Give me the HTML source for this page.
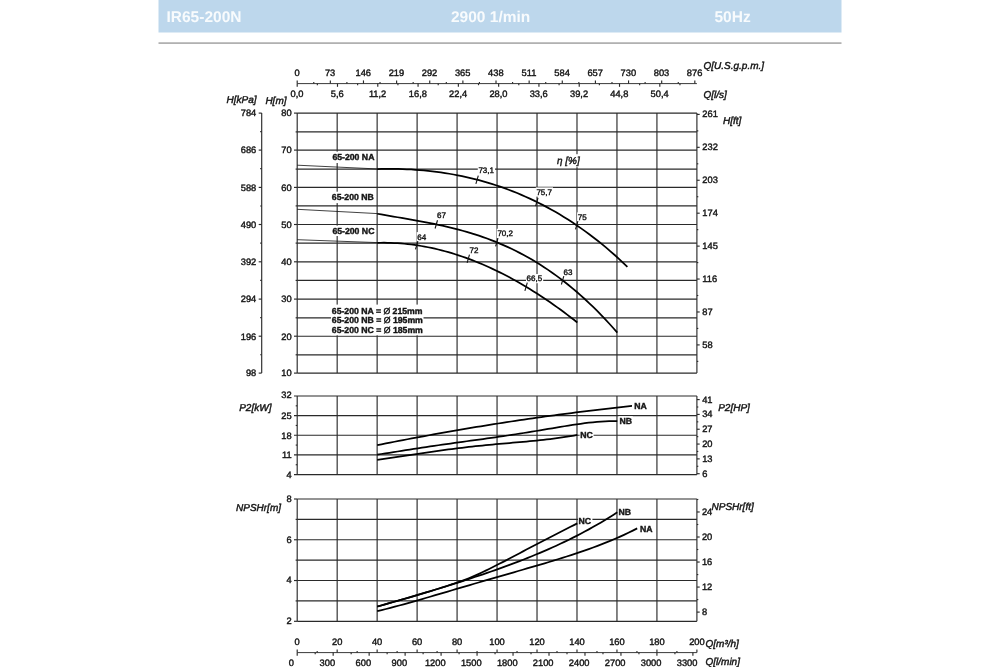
<!DOCTYPE html>
<html lang="en">
<head>
<meta charset="utf-8">
<title>IR65-200N 2900 1/min 50Hz</title>
<style>
html,body{margin:0;padding:0;background:#fff;}
body{width:1000px;height:667px;overflow:hidden;}
svg{display:block;font-family:"Liberation Sans",sans-serif;filter:blur(0.4px);}
</style>
</head>
<body>
<svg width="1000" height="667" viewBox="0 0 1000 667" text-rendering="geometricPrecision">
<rect x="0" y="0" width="1000" height="667" fill="#ffffff"/>
<rect x="158.5" y="0" width="683" height="32.5" fill="#bdd7ec"/>
<rect x="158.5" y="42.3" width="683" height="1.6" fill="#a9a9a9"/>
<text x="166.50" y="22.30" font-size="15.5" font-weight="bold" fill="#f8fbfd" stroke="#f8fbfd" stroke-width="0">IR65-200N</text>
<text x="451.00" y="22.30" font-size="15.5" font-weight="bold" fill="#f8fbfd" stroke="#f8fbfd" stroke-width="0">2900 1/min</text>
<text x="714.50" y="22.30" font-size="15.5" font-weight="bold" fill="#f8fbfd" stroke="#f8fbfd" stroke-width="0">50Hz</text>
<line x1="297.20" y1="83.60" x2="696.90" y2="83.60" stroke="#3a3a3a" stroke-width="1.0"/>
<line x1="297.20" y1="80.40" x2="297.20" y2="83.60" stroke="#2a2a2a" stroke-width="1.15"/>
<text x="297.00" y="76.43" font-size="9.3" text-anchor="middle" fill="#141414" stroke="#141414" stroke-width="0.4">0</text>
<line x1="313.77" y1="82.00" x2="313.77" y2="83.60" stroke="#2a2a2a" stroke-width="1.15"/>
<line x1="330.34" y1="80.40" x2="330.34" y2="83.60" stroke="#2a2a2a" stroke-width="1.15"/>
<text x="330.14" y="76.43" font-size="9.3" text-anchor="middle" fill="#141414" stroke="#141414" stroke-width="0.4">73</text>
<line x1="346.90" y1="82.00" x2="346.90" y2="83.60" stroke="#2a2a2a" stroke-width="1.15"/>
<line x1="363.47" y1="80.40" x2="363.47" y2="83.60" stroke="#2a2a2a" stroke-width="1.15"/>
<text x="363.27" y="76.43" font-size="9.3" text-anchor="middle" fill="#141414" stroke="#141414" stroke-width="0.4">146</text>
<line x1="380.04" y1="82.00" x2="380.04" y2="83.60" stroke="#2a2a2a" stroke-width="1.15"/>
<line x1="396.61" y1="80.40" x2="396.61" y2="83.60" stroke="#2a2a2a" stroke-width="1.15"/>
<text x="396.41" y="76.43" font-size="9.3" text-anchor="middle" fill="#141414" stroke="#141414" stroke-width="0.4">219</text>
<line x1="413.17" y1="82.00" x2="413.17" y2="83.60" stroke="#2a2a2a" stroke-width="1.15"/>
<line x1="429.74" y1="80.40" x2="429.74" y2="83.60" stroke="#2a2a2a" stroke-width="1.15"/>
<text x="429.54" y="76.43" font-size="9.3" text-anchor="middle" fill="#141414" stroke="#141414" stroke-width="0.4">292</text>
<line x1="446.31" y1="82.00" x2="446.31" y2="83.60" stroke="#2a2a2a" stroke-width="1.15"/>
<line x1="462.88" y1="80.40" x2="462.88" y2="83.60" stroke="#2a2a2a" stroke-width="1.15"/>
<text x="462.68" y="76.43" font-size="9.3" text-anchor="middle" fill="#141414" stroke="#141414" stroke-width="0.4">365</text>
<line x1="479.44" y1="82.00" x2="479.44" y2="83.60" stroke="#2a2a2a" stroke-width="1.15"/>
<line x1="496.01" y1="80.40" x2="496.01" y2="83.60" stroke="#2a2a2a" stroke-width="1.15"/>
<text x="495.81" y="76.43" font-size="9.3" text-anchor="middle" fill="#141414" stroke="#141414" stroke-width="0.4">438</text>
<line x1="512.58" y1="82.00" x2="512.58" y2="83.60" stroke="#2a2a2a" stroke-width="1.15"/>
<line x1="529.15" y1="80.40" x2="529.15" y2="83.60" stroke="#2a2a2a" stroke-width="1.15"/>
<text x="528.95" y="76.43" font-size="9.3" text-anchor="middle" fill="#141414" stroke="#141414" stroke-width="0.4">511</text>
<line x1="545.72" y1="82.00" x2="545.72" y2="83.60" stroke="#2a2a2a" stroke-width="1.15"/>
<line x1="562.28" y1="80.40" x2="562.28" y2="83.60" stroke="#2a2a2a" stroke-width="1.15"/>
<text x="562.08" y="76.43" font-size="9.3" text-anchor="middle" fill="#141414" stroke="#141414" stroke-width="0.4">584</text>
<line x1="578.85" y1="82.00" x2="578.85" y2="83.60" stroke="#2a2a2a" stroke-width="1.15"/>
<line x1="595.42" y1="80.40" x2="595.42" y2="83.60" stroke="#2a2a2a" stroke-width="1.15"/>
<text x="595.22" y="76.43" font-size="9.3" text-anchor="middle" fill="#141414" stroke="#141414" stroke-width="0.4">657</text>
<line x1="611.99" y1="82.00" x2="611.99" y2="83.60" stroke="#2a2a2a" stroke-width="1.15"/>
<line x1="628.55" y1="80.40" x2="628.55" y2="83.60" stroke="#2a2a2a" stroke-width="1.15"/>
<text x="628.35" y="76.43" font-size="9.3" text-anchor="middle" fill="#141414" stroke="#141414" stroke-width="0.4">730</text>
<line x1="645.12" y1="82.00" x2="645.12" y2="83.60" stroke="#2a2a2a" stroke-width="1.15"/>
<line x1="661.69" y1="80.40" x2="661.69" y2="83.60" stroke="#2a2a2a" stroke-width="1.15"/>
<text x="661.49" y="76.43" font-size="9.3" text-anchor="middle" fill="#141414" stroke="#141414" stroke-width="0.4">803</text>
<line x1="678.26" y1="82.00" x2="678.26" y2="83.60" stroke="#2a2a2a" stroke-width="1.15"/>
<line x1="694.82" y1="80.40" x2="694.82" y2="83.60" stroke="#2a2a2a" stroke-width="1.15"/>
<text x="694.62" y="76.43" font-size="9.3" text-anchor="middle" fill="#141414" stroke="#141414" stroke-width="0.4">876</text>
<line x1="297.20" y1="83.60" x2="297.20" y2="86.80" stroke="#2a2a2a" stroke-width="1.15"/>
<text x="297.00" y="97.43" font-size="9.3" text-anchor="middle" fill="#141414" stroke="#141414" stroke-width="0.4">0,0</text>
<line x1="317.34" y1="83.60" x2="317.34" y2="85.20" stroke="#2a2a2a" stroke-width="1.15"/>
<line x1="337.49" y1="83.60" x2="337.49" y2="86.80" stroke="#2a2a2a" stroke-width="1.15"/>
<text x="337.29" y="97.43" font-size="9.3" text-anchor="middle" fill="#141414" stroke="#141414" stroke-width="0.4">5,6</text>
<line x1="357.63" y1="83.60" x2="357.63" y2="85.20" stroke="#2a2a2a" stroke-width="1.15"/>
<line x1="377.78" y1="83.60" x2="377.78" y2="86.80" stroke="#2a2a2a" stroke-width="1.15"/>
<text x="377.58" y="97.43" font-size="9.3" text-anchor="middle" fill="#141414" stroke="#141414" stroke-width="0.4">11,2</text>
<line x1="397.92" y1="83.60" x2="397.92" y2="85.20" stroke="#2a2a2a" stroke-width="1.15"/>
<line x1="418.07" y1="83.60" x2="418.07" y2="86.80" stroke="#2a2a2a" stroke-width="1.15"/>
<text x="417.87" y="97.43" font-size="9.3" text-anchor="middle" fill="#141414" stroke="#141414" stroke-width="0.4">16,8</text>
<line x1="438.21" y1="83.60" x2="438.21" y2="85.20" stroke="#2a2a2a" stroke-width="1.15"/>
<line x1="458.36" y1="83.60" x2="458.36" y2="86.80" stroke="#2a2a2a" stroke-width="1.15"/>
<text x="458.16" y="97.43" font-size="9.3" text-anchor="middle" fill="#141414" stroke="#141414" stroke-width="0.4">22,4</text>
<line x1="478.50" y1="83.60" x2="478.50" y2="85.20" stroke="#2a2a2a" stroke-width="1.15"/>
<line x1="498.65" y1="83.60" x2="498.65" y2="86.80" stroke="#2a2a2a" stroke-width="1.15"/>
<text x="498.45" y="97.43" font-size="9.3" text-anchor="middle" fill="#141414" stroke="#141414" stroke-width="0.4">28,0</text>
<line x1="518.79" y1="83.60" x2="518.79" y2="85.20" stroke="#2a2a2a" stroke-width="1.15"/>
<line x1="538.94" y1="83.60" x2="538.94" y2="86.80" stroke="#2a2a2a" stroke-width="1.15"/>
<text x="538.74" y="97.43" font-size="9.3" text-anchor="middle" fill="#141414" stroke="#141414" stroke-width="0.4">33,6</text>
<line x1="559.08" y1="83.60" x2="559.08" y2="85.20" stroke="#2a2a2a" stroke-width="1.15"/>
<line x1="579.23" y1="83.60" x2="579.23" y2="86.80" stroke="#2a2a2a" stroke-width="1.15"/>
<text x="579.03" y="97.43" font-size="9.3" text-anchor="middle" fill="#141414" stroke="#141414" stroke-width="0.4">39,2</text>
<line x1="599.37" y1="83.60" x2="599.37" y2="85.20" stroke="#2a2a2a" stroke-width="1.15"/>
<line x1="619.52" y1="83.60" x2="619.52" y2="86.80" stroke="#2a2a2a" stroke-width="1.15"/>
<text x="619.32" y="97.43" font-size="9.3" text-anchor="middle" fill="#141414" stroke="#141414" stroke-width="0.4">44,8</text>
<line x1="639.66" y1="83.60" x2="639.66" y2="85.20" stroke="#2a2a2a" stroke-width="1.15"/>
<line x1="659.81" y1="83.60" x2="659.81" y2="86.80" stroke="#2a2a2a" stroke-width="1.15"/>
<text x="659.61" y="97.43" font-size="9.3" text-anchor="middle" fill="#141414" stroke="#141414" stroke-width="0.4">50,4</text>
<line x1="679.95" y1="83.60" x2="679.95" y2="85.20" stroke="#2a2a2a" stroke-width="1.15"/>
<text x="703.50" y="69.18" font-size="10.0" font-style="italic" fill="#141414" stroke="#141414" stroke-width="0.42">Q[U.S.g.p.m.]</text>
<text x="703.50" y="97.58" font-size="10.0" font-style="italic" fill="#141414" stroke="#141414" stroke-width="0.42">Q[l/s]</text>
<line x1="297.20" y1="113.10" x2="297.20" y2="373.10" stroke="#2a2a2a" stroke-width="1.15"/>
<line x1="337.17" y1="113.10" x2="337.17" y2="373.10" stroke="#2a2a2a" stroke-width="1.15"/>
<line x1="377.14" y1="113.10" x2="377.14" y2="373.10" stroke="#2a2a2a" stroke-width="1.15"/>
<line x1="417.11" y1="113.10" x2="417.11" y2="373.10" stroke="#2a2a2a" stroke-width="1.15"/>
<line x1="457.08" y1="113.10" x2="457.08" y2="373.10" stroke="#2a2a2a" stroke-width="1.15"/>
<line x1="497.05" y1="113.10" x2="497.05" y2="373.10" stroke="#2a2a2a" stroke-width="1.15"/>
<line x1="537.02" y1="113.10" x2="537.02" y2="373.10" stroke="#2a2a2a" stroke-width="1.15"/>
<line x1="576.99" y1="113.10" x2="576.99" y2="373.10" stroke="#2a2a2a" stroke-width="1.15"/>
<line x1="616.96" y1="113.10" x2="616.96" y2="373.10" stroke="#2a2a2a" stroke-width="1.15"/>
<line x1="656.93" y1="113.10" x2="656.93" y2="373.10" stroke="#2a2a2a" stroke-width="1.15"/>
<line x1="696.90" y1="113.10" x2="696.90" y2="373.10" stroke="#2a2a2a" stroke-width="1.15"/>
<line x1="297.20" y1="373.10" x2="696.90" y2="373.10" stroke="#2a2a2a" stroke-width="1.15"/>
<line x1="294.00" y1="373.10" x2="297.20" y2="373.10" stroke="#2a2a2a" stroke-width="1.15"/>
<text x="291.60" y="376.43" font-size="9.3" text-anchor="end" fill="#141414" stroke="#141414" stroke-width="0.4">10</text>
<line x1="297.20" y1="354.80" x2="696.90" y2="354.80" stroke="#2a2a2a" stroke-width="1.15"/>
<line x1="295.60" y1="354.80" x2="297.20" y2="354.80" stroke="#2a2a2a" stroke-width="1.15"/>
<line x1="297.20" y1="336.20" x2="696.90" y2="336.20" stroke="#2a2a2a" stroke-width="1.15"/>
<line x1="294.00" y1="336.20" x2="297.20" y2="336.20" stroke="#2a2a2a" stroke-width="1.15"/>
<text x="291.60" y="339.53" font-size="9.3" text-anchor="end" fill="#141414" stroke="#141414" stroke-width="0.4">20</text>
<line x1="297.20" y1="317.80" x2="696.90" y2="317.80" stroke="#2a2a2a" stroke-width="1.15"/>
<line x1="295.60" y1="317.80" x2="297.20" y2="317.80" stroke="#2a2a2a" stroke-width="1.15"/>
<line x1="297.20" y1="299.10" x2="696.90" y2="299.10" stroke="#2a2a2a" stroke-width="1.15"/>
<line x1="294.00" y1="299.10" x2="297.20" y2="299.10" stroke="#2a2a2a" stroke-width="1.15"/>
<text x="291.60" y="302.43" font-size="9.3" text-anchor="end" fill="#141414" stroke="#141414" stroke-width="0.4">30</text>
<line x1="297.20" y1="280.40" x2="696.90" y2="280.40" stroke="#2a2a2a" stroke-width="1.15"/>
<line x1="295.60" y1="280.40" x2="297.20" y2="280.40" stroke="#2a2a2a" stroke-width="1.15"/>
<line x1="297.20" y1="261.80" x2="696.90" y2="261.80" stroke="#2a2a2a" stroke-width="1.15"/>
<line x1="294.00" y1="261.80" x2="297.20" y2="261.80" stroke="#2a2a2a" stroke-width="1.15"/>
<text x="291.60" y="265.13" font-size="9.3" text-anchor="end" fill="#141414" stroke="#141414" stroke-width="0.4">40</text>
<line x1="297.20" y1="243.10" x2="696.90" y2="243.10" stroke="#2a2a2a" stroke-width="1.15"/>
<line x1="295.60" y1="243.10" x2="297.20" y2="243.10" stroke="#2a2a2a" stroke-width="1.15"/>
<line x1="297.20" y1="224.50" x2="696.90" y2="224.50" stroke="#2a2a2a" stroke-width="1.15"/>
<line x1="294.00" y1="224.50" x2="297.20" y2="224.50" stroke="#2a2a2a" stroke-width="1.15"/>
<text x="291.60" y="227.83" font-size="9.3" text-anchor="end" fill="#141414" stroke="#141414" stroke-width="0.4">50</text>
<line x1="297.20" y1="205.90" x2="696.90" y2="205.90" stroke="#2a2a2a" stroke-width="1.15"/>
<line x1="295.60" y1="205.90" x2="297.20" y2="205.90" stroke="#2a2a2a" stroke-width="1.15"/>
<line x1="297.20" y1="187.40" x2="696.90" y2="187.40" stroke="#2a2a2a" stroke-width="1.15"/>
<line x1="294.00" y1="187.40" x2="297.20" y2="187.40" stroke="#2a2a2a" stroke-width="1.15"/>
<text x="291.60" y="190.73" font-size="9.3" text-anchor="end" fill="#141414" stroke="#141414" stroke-width="0.4">60</text>
<line x1="297.20" y1="169.10" x2="696.90" y2="169.10" stroke="#2a2a2a" stroke-width="1.15"/>
<line x1="295.60" y1="169.10" x2="297.20" y2="169.10" stroke="#2a2a2a" stroke-width="1.15"/>
<line x1="297.20" y1="150.10" x2="696.90" y2="150.10" stroke="#2a2a2a" stroke-width="1.15"/>
<line x1="294.00" y1="150.10" x2="297.20" y2="150.10" stroke="#2a2a2a" stroke-width="1.15"/>
<text x="291.60" y="153.43" font-size="9.3" text-anchor="end" fill="#141414" stroke="#141414" stroke-width="0.4">70</text>
<line x1="297.20" y1="131.90" x2="696.90" y2="131.90" stroke="#2a2a2a" stroke-width="1.15"/>
<line x1="295.60" y1="131.90" x2="297.20" y2="131.90" stroke="#2a2a2a" stroke-width="1.15"/>
<line x1="297.20" y1="113.10" x2="696.90" y2="113.10" stroke="#2a2a2a" stroke-width="1.15"/>
<line x1="294.00" y1="113.10" x2="297.20" y2="113.10" stroke="#2a2a2a" stroke-width="1.15"/>
<text x="291.60" y="116.43" font-size="9.3" text-anchor="end" fill="#141414" stroke="#141414" stroke-width="0.4">80</text>
<line x1="261.70" y1="113.10" x2="261.70" y2="373.10" stroke="#2a2a2a" stroke-width="1.15"/>
<line x1="258.70" y1="113.10" x2="261.70" y2="113.10" stroke="#2a2a2a" stroke-width="1.15"/>
<text x="256.30" y="116.43" font-size="9.3" text-anchor="end" fill="#141414" stroke="#141414" stroke-width="0.4">784</text>
<line x1="260.20" y1="131.67" x2="261.70" y2="131.67" stroke="#2a2a2a" stroke-width="1.15"/>
<line x1="258.70" y1="150.10" x2="261.70" y2="150.10" stroke="#2a2a2a" stroke-width="1.15"/>
<text x="256.30" y="153.43" font-size="9.3" text-anchor="end" fill="#141414" stroke="#141414" stroke-width="0.4">686</text>
<line x1="260.20" y1="168.67" x2="261.70" y2="168.67" stroke="#2a2a2a" stroke-width="1.15"/>
<line x1="258.70" y1="187.40" x2="261.70" y2="187.40" stroke="#2a2a2a" stroke-width="1.15"/>
<text x="256.30" y="190.73" font-size="9.3" text-anchor="end" fill="#141414" stroke="#141414" stroke-width="0.4">588</text>
<line x1="260.20" y1="205.97" x2="261.70" y2="205.97" stroke="#2a2a2a" stroke-width="1.15"/>
<line x1="258.70" y1="224.50" x2="261.70" y2="224.50" stroke="#2a2a2a" stroke-width="1.15"/>
<text x="256.30" y="227.83" font-size="9.3" text-anchor="end" fill="#141414" stroke="#141414" stroke-width="0.4">490</text>
<line x1="260.20" y1="243.07" x2="261.70" y2="243.07" stroke="#2a2a2a" stroke-width="1.15"/>
<line x1="258.70" y1="261.80" x2="261.70" y2="261.80" stroke="#2a2a2a" stroke-width="1.15"/>
<text x="256.30" y="265.13" font-size="9.3" text-anchor="end" fill="#141414" stroke="#141414" stroke-width="0.4">392</text>
<line x1="260.20" y1="280.37" x2="261.70" y2="280.37" stroke="#2a2a2a" stroke-width="1.15"/>
<line x1="258.70" y1="299.10" x2="261.70" y2="299.10" stroke="#2a2a2a" stroke-width="1.15"/>
<text x="256.30" y="302.43" font-size="9.3" text-anchor="end" fill="#141414" stroke="#141414" stroke-width="0.4">294</text>
<line x1="260.20" y1="317.67" x2="261.70" y2="317.67" stroke="#2a2a2a" stroke-width="1.15"/>
<line x1="258.70" y1="336.20" x2="261.70" y2="336.20" stroke="#2a2a2a" stroke-width="1.15"/>
<text x="256.30" y="339.53" font-size="9.3" text-anchor="end" fill="#141414" stroke="#141414" stroke-width="0.4">196</text>
<line x1="260.20" y1="354.77" x2="261.70" y2="354.77" stroke="#2a2a2a" stroke-width="1.15"/>
<line x1="258.70" y1="373.10" x2="261.70" y2="373.10" stroke="#2a2a2a" stroke-width="1.15"/>
<text x="256.30" y="376.43" font-size="9.3" text-anchor="end" fill="#141414" stroke="#141414" stroke-width="0.4">98</text>
<text x="226.50" y="103.18" font-size="10.0" font-style="italic" fill="#141414" stroke="#141414" stroke-width="0.42">H[kPa]</text>
<text x="265.40" y="103.78" font-size="10.0" font-style="italic" fill="#141414" stroke="#141414" stroke-width="0.42">H[m]</text>
<line x1="696.90" y1="344.91" x2="699.70" y2="344.91" stroke="#2a2a2a" stroke-width="1.15"/>
<text x="702.30" y="347.74" font-size="9.3" fill="#141414" stroke="#141414" stroke-width="0.4">58</text>
<line x1="696.90" y1="311.98" x2="699.70" y2="311.98" stroke="#2a2a2a" stroke-width="1.15"/>
<text x="702.30" y="314.81" font-size="9.3" fill="#141414" stroke="#141414" stroke-width="0.4">87</text>
<line x1="696.90" y1="279.05" x2="699.70" y2="279.05" stroke="#2a2a2a" stroke-width="1.15"/>
<text x="702.30" y="281.88" font-size="9.3" fill="#141414" stroke="#141414" stroke-width="0.4">116</text>
<line x1="696.90" y1="246.12" x2="699.70" y2="246.12" stroke="#2a2a2a" stroke-width="1.15"/>
<text x="702.30" y="248.95" font-size="9.3" fill="#141414" stroke="#141414" stroke-width="0.4">145</text>
<line x1="696.90" y1="213.19" x2="699.70" y2="213.19" stroke="#2a2a2a" stroke-width="1.15"/>
<text x="702.30" y="216.02" font-size="9.3" fill="#141414" stroke="#141414" stroke-width="0.4">174</text>
<line x1="696.90" y1="180.26" x2="699.70" y2="180.26" stroke="#2a2a2a" stroke-width="1.15"/>
<text x="702.30" y="183.09" font-size="9.3" fill="#141414" stroke="#141414" stroke-width="0.4">203</text>
<line x1="696.90" y1="147.33" x2="699.70" y2="147.33" stroke="#2a2a2a" stroke-width="1.15"/>
<text x="702.30" y="150.16" font-size="9.3" fill="#141414" stroke="#141414" stroke-width="0.4">232</text>
<line x1="696.90" y1="114.40" x2="699.70" y2="114.40" stroke="#2a2a2a" stroke-width="1.15"/>
<text x="702.30" y="117.23" font-size="9.3" fill="#141414" stroke="#141414" stroke-width="0.4">261</text>
<line x1="696.90" y1="361.38" x2="698.30" y2="361.38" stroke="#2a2a2a" stroke-width="1.15"/>
<line x1="696.90" y1="328.44" x2="698.30" y2="328.44" stroke="#2a2a2a" stroke-width="1.15"/>
<line x1="696.90" y1="295.51" x2="698.30" y2="295.51" stroke="#2a2a2a" stroke-width="1.15"/>
<line x1="696.90" y1="262.59" x2="698.30" y2="262.59" stroke="#2a2a2a" stroke-width="1.15"/>
<line x1="696.90" y1="229.66" x2="698.30" y2="229.66" stroke="#2a2a2a" stroke-width="1.15"/>
<line x1="696.90" y1="196.73" x2="698.30" y2="196.73" stroke="#2a2a2a" stroke-width="1.15"/>
<line x1="696.90" y1="163.80" x2="698.30" y2="163.80" stroke="#2a2a2a" stroke-width="1.15"/>
<line x1="696.90" y1="130.87" x2="698.30" y2="130.87" stroke="#2a2a2a" stroke-width="1.15"/>
<text x="723.00" y="123.78" font-size="10.0" font-style="italic" fill="#141414" stroke="#141414" stroke-width="0.42">H[ft]</text>
<rect x="331.0" y="151.6" width="44.0" height="11.4" fill="#fff"/>
<rect x="331.0" y="191.7" width="44.0" height="11.4" fill="#fff"/>
<rect x="331.0" y="225.6" width="44.0" height="10.4" fill="#fff"/>
<rect x="331.0" y="304.6" width="92.5" height="30.7" fill="#fff"/>
<text x="332.40" y="160.11" font-size="8.7" font-weight="bold" fill="#141414" stroke="#141414" stroke-width="0.4">65-200 NA</text>
<text x="331.80" y="200.11" font-size="8.7" font-weight="bold" fill="#141414" stroke="#141414" stroke-width="0.4">65-200 NB</text>
<text x="332.40" y="234.11" font-size="8.7" font-weight="bold" fill="#141414" stroke="#141414" stroke-width="0.4">65-200 NC</text>
<text x="331.80" y="313.61" font-size="8.7" font-weight="bold" fill="#141414" stroke="#141414" stroke-width="0.4">65-200 NA = <tspan font-weight="normal">Ø</tspan> 215mm</text>
<text x="331.80" y="323.41" font-size="8.7" font-weight="bold" fill="#141414" stroke="#141414" stroke-width="0.4">65-200 NB = <tspan font-weight="normal">Ø</tspan> 195mm</text>
<text x="331.80" y="333.21" font-size="8.7" font-weight="bold" fill="#141414" stroke="#141414" stroke-width="0.4">65-200 NC = <tspan font-weight="normal">Ø</tspan> 185mm</text>
<line x1="297.20" y1="165.20" x2="377.40" y2="168.95" stroke="#111" stroke-width="0.8"/>
<line x1="297.20" y1="209.30" x2="377.40" y2="213.60" stroke="#111" stroke-width="0.8"/>
<line x1="297.20" y1="239.70" x2="377.40" y2="242.60" stroke="#111" stroke-width="0.8"/>
<rect x="477.8" y="165.8" width="17.2" height="9.2" fill="#fff"/>
<text x="478.40" y="173.26" font-size="8.0" fill="#141414" stroke="#141414" stroke-width="0.4">73,1</text>
<rect x="535.8" y="187.4" width="17.2" height="9.2" fill="#fff"/>
<text x="536.40" y="194.86" font-size="8.0" fill="#141414" stroke="#141414" stroke-width="0.4">75,7</text>
<rect x="577.1" y="212.4" width="10.5" height="9.2" fill="#fff"/>
<text x="577.70" y="219.86" font-size="8.0" fill="#141414" stroke="#141414" stroke-width="0.4">75</text>
<rect x="436.5" y="210.5" width="10.5" height="9.2" fill="#fff"/>
<text x="437.10" y="217.96" font-size="8.0" fill="#141414" stroke="#141414" stroke-width="0.4">67</text>
<rect x="496.8" y="228.8" width="17.2" height="9.2" fill="#fff"/>
<text x="497.40" y="236.26" font-size="8.0" fill="#141414" stroke="#141414" stroke-width="0.4">70,2</text>
<rect x="562.9" y="267.4" width="10.5" height="9.2" fill="#fff"/>
<text x="563.50" y="274.86" font-size="8.0" fill="#141414" stroke="#141414" stroke-width="0.4">63</text>
<rect x="416.7" y="232.1" width="10.5" height="9.2" fill="#fff"/>
<text x="417.30" y="239.56" font-size="8.0" fill="#141414" stroke="#141414" stroke-width="0.4">64</text>
<rect x="468.9" y="246.0" width="10.5" height="9.2" fill="#fff"/>
<text x="469.50" y="253.46" font-size="8.0" fill="#141414" stroke="#141414" stroke-width="0.4">72</text>
<rect x="526.0" y="274.0" width="17.2" height="9.2" fill="#fff"/>
<text x="526.60" y="281.46" font-size="8.0" fill="#141414" stroke="#141414" stroke-width="0.4">66,5</text>
<rect x="555.0" y="154.2" width="28.0" height="13.0" fill="#fff"/>
<text x="556.90" y="164.00" font-size="10.0" font-style="italic" fill="#141414" stroke="#141414" stroke-width="0.4">η [%]</text>
<path d="M377.20,169.02 L381.44,168.92 L385.68,168.87 L389.92,168.86 L394.16,168.89 L398.40,168.97 L402.64,169.10 L406.88,169.27 L411.13,169.49 L415.37,169.76 L419.61,170.08 L423.85,170.45 L428.09,170.87 L432.33,171.34 L436.57,171.86 L440.81,172.44 L445.05,173.07 L449.29,173.76 L453.53,174.50 L457.77,175.30 L462.01,176.16 L466.25,177.08 L470.49,178.05 L474.74,179.09 L478.98,180.19 L483.22,181.36 L487.46,182.58 L491.70,183.87 L495.94,185.23 L500.18,186.66 L504.42,188.15 L508.66,189.72 L512.90,191.35 L517.14,193.06 L521.38,194.84 L525.62,196.69 L529.86,198.62 L534.11,200.62 L538.35,202.71 L542.59,204.87 L546.83,207.11 L551.07,209.43 L555.31,211.84 L559.55,214.33 L563.79,216.91 L568.03,219.58 L572.27,222.33 L576.51,225.17 L580.75,228.10 L584.99,231.13 L589.23,234.25 L593.47,237.47 L597.72,240.78 L601.96,244.19 L606.20,247.70 L610.44,251.31 L614.68,255.03 L618.92,258.84 L623.16,262.77 L627.40,266.80" fill="none" stroke="#000" stroke-width="1.75" stroke-linecap="butt" stroke-linejoin="round"/>
<path d="M377.20,213.76 L381.27,214.48 L385.34,215.18 L389.41,215.88 L393.48,216.57 L397.55,217.26 L401.62,217.94 L405.69,218.64 L409.76,219.34 L413.83,220.06 L417.89,220.78 L421.96,221.53 L426.03,222.30 L430.10,223.10 L434.17,223.92 L438.24,224.77 L442.31,225.66 L446.38,226.59 L450.45,227.56 L454.52,228.57 L458.59,229.62 L462.66,230.73 L466.73,231.88 L470.80,233.10 L474.87,234.37 L478.94,235.70 L483.01,237.09 L487.08,238.55 L491.15,240.07 L495.22,241.67 L499.28,243.34 L503.35,245.08 L507.42,246.90 L511.49,248.80 L515.56,250.78 L519.63,252.85 L523.70,255.01 L527.77,257.25 L531.84,259.58 L535.91,262.01 L539.98,264.53 L544.05,267.14 L548.12,269.86 L552.19,272.67 L556.26,275.59 L560.33,278.61 L564.40,281.74 L568.47,284.97 L572.54,288.31 L576.61,291.77 L580.67,295.33 L584.74,299.01 L588.81,302.80 L592.88,306.71 L596.95,310.73 L601.02,314.88 L605.09,319.14 L609.16,323.53 L613.23,328.03 L617.30,332.67" fill="none" stroke="#000" stroke-width="1.75" stroke-linecap="butt" stroke-linejoin="round"/>
<path d="M377.20,242.81 L380.59,242.75 L383.98,242.74 L387.37,242.78 L390.77,242.87 L394.16,243.01 L397.55,243.21 L400.94,243.45 L404.33,243.75 L407.72,244.10 L411.12,244.50 L414.51,244.95 L417.90,245.45 L421.29,246.00 L424.68,246.60 L428.07,247.25 L431.46,247.95 L434.86,248.70 L438.25,249.50 L441.64,250.35 L445.03,251.25 L448.42,252.19 L451.81,253.19 L455.21,254.23 L458.60,255.32 L461.99,256.46 L465.38,257.65 L468.77,258.88 L472.16,260.16 L475.55,261.49 L478.95,262.87 L482.34,264.29 L485.73,265.76 L489.12,267.28 L492.51,268.85 L495.90,270.45 L499.29,272.11 L502.69,273.81 L506.08,275.56 L509.47,277.35 L512.86,279.19 L516.25,281.07 L519.64,283.00 L523.04,284.97 L526.43,286.99 L529.82,289.05 L533.21,291.16 L536.60,293.31 L539.99,295.50 L543.38,297.74 L546.78,300.02 L550.17,302.34 L553.56,304.71 L556.95,307.12 L560.34,309.57 L563.73,312.07 L567.13,314.60 L570.52,317.18 L573.91,319.80 L577.30,322.47" fill="none" stroke="#000" stroke-width="1.75" stroke-linecap="butt" stroke-linejoin="round"/>
<line x1="475.91" y1="183.83" x2="478.29" y2="175.56" stroke="#111" stroke-width="1.1"/>
<line x1="535.61" y1="206.07" x2="537.99" y2="197.80" stroke="#111" stroke-width="1.1"/>
<line x1="575.51" y1="229.43" x2="577.89" y2="221.16" stroke="#111" stroke-width="1.1"/>
<line x1="435.11" y1="228.50" x2="437.49" y2="220.23" stroke="#111" stroke-width="1.1"/>
<line x1="495.61" y1="246.44" x2="497.99" y2="238.17" stroke="#111" stroke-width="1.1"/>
<line x1="561.41" y1="284.48" x2="563.79" y2="276.21" stroke="#111" stroke-width="1.1"/>
<line x1="415.51" y1="249.40" x2="417.89" y2="241.13" stroke="#111" stroke-width="1.1"/>
<line x1="467.11" y1="262.84" x2="469.49" y2="254.57" stroke="#111" stroke-width="1.1"/>
<line x1="524.91" y1="290.93" x2="527.29" y2="282.66" stroke="#111" stroke-width="1.1"/>
<line x1="297.20" y1="396.00" x2="297.20" y2="474.55" stroke="#2a2a2a" stroke-width="1.15"/>
<line x1="337.17" y1="396.00" x2="337.17" y2="474.55" stroke="#2a2a2a" stroke-width="1.15"/>
<line x1="377.14" y1="396.00" x2="377.14" y2="474.55" stroke="#2a2a2a" stroke-width="1.15"/>
<line x1="417.11" y1="396.00" x2="417.11" y2="474.55" stroke="#2a2a2a" stroke-width="1.15"/>
<line x1="457.08" y1="396.00" x2="457.08" y2="474.55" stroke="#2a2a2a" stroke-width="1.15"/>
<line x1="497.05" y1="396.00" x2="497.05" y2="474.55" stroke="#2a2a2a" stroke-width="1.15"/>
<line x1="537.02" y1="396.00" x2="537.02" y2="474.55" stroke="#2a2a2a" stroke-width="1.15"/>
<line x1="576.99" y1="396.00" x2="576.99" y2="474.55" stroke="#2a2a2a" stroke-width="1.15"/>
<line x1="616.96" y1="396.00" x2="616.96" y2="474.55" stroke="#2a2a2a" stroke-width="1.15"/>
<line x1="656.93" y1="396.00" x2="656.93" y2="474.55" stroke="#2a2a2a" stroke-width="1.15"/>
<line x1="696.90" y1="396.00" x2="696.90" y2="474.55" stroke="#2a2a2a" stroke-width="1.15"/>
<line x1="294.00" y1="396.00" x2="696.90" y2="396.00" stroke="#2a2a2a" stroke-width="1.15"/>
<text x="291.60" y="398.43" font-size="9.3" text-anchor="end" fill="#141414" stroke="#141414" stroke-width="0.4">32</text>
<line x1="295.70" y1="405.82" x2="297.20" y2="405.82" stroke="#2a2a2a" stroke-width="1.15"/>
<line x1="294.00" y1="415.64" x2="696.90" y2="415.64" stroke="#2a2a2a" stroke-width="1.15"/>
<text x="291.60" y="418.87" font-size="9.3" text-anchor="end" fill="#141414" stroke="#141414" stroke-width="0.4">25</text>
<line x1="295.70" y1="425.46" x2="297.20" y2="425.46" stroke="#2a2a2a" stroke-width="1.15"/>
<line x1="294.00" y1="435.27" x2="696.90" y2="435.27" stroke="#2a2a2a" stroke-width="1.15"/>
<text x="291.60" y="438.50" font-size="9.3" text-anchor="end" fill="#141414" stroke="#141414" stroke-width="0.4">18</text>
<line x1="295.70" y1="445.09" x2="297.20" y2="445.09" stroke="#2a2a2a" stroke-width="1.15"/>
<line x1="294.00" y1="454.91" x2="696.90" y2="454.91" stroke="#2a2a2a" stroke-width="1.15"/>
<text x="291.60" y="458.14" font-size="9.3" text-anchor="end" fill="#141414" stroke="#141414" stroke-width="0.4">11</text>
<line x1="295.70" y1="464.73" x2="297.20" y2="464.73" stroke="#2a2a2a" stroke-width="1.15"/>
<line x1="294.00" y1="474.55" x2="696.90" y2="474.55" stroke="#2a2a2a" stroke-width="1.15"/>
<text x="291.60" y="477.78" font-size="9.3" text-anchor="end" fill="#141414" stroke="#141414" stroke-width="0.4">4</text>
<text x="239.20" y="411.18" font-size="10.0" font-style="italic" fill="#141414" stroke="#141414" stroke-width="0.42">P2[kW]</text>
<line x1="696.90" y1="399.60" x2="699.70" y2="399.60" stroke="#2a2a2a" stroke-width="1.15"/>
<text x="702.20" y="402.63" font-size="9.3" fill="#141414" stroke="#141414" stroke-width="0.4">41</text>
<line x1="696.90" y1="407.01" x2="698.30" y2="407.01" stroke="#2a2a2a" stroke-width="1.15"/>
<line x1="696.90" y1="414.42" x2="699.70" y2="414.42" stroke="#2a2a2a" stroke-width="1.15"/>
<text x="702.20" y="417.45" font-size="9.3" fill="#141414" stroke="#141414" stroke-width="0.4">34</text>
<line x1="696.90" y1="421.83" x2="698.30" y2="421.83" stroke="#2a2a2a" stroke-width="1.15"/>
<line x1="696.90" y1="429.24" x2="699.70" y2="429.24" stroke="#2a2a2a" stroke-width="1.15"/>
<text x="702.20" y="432.27" font-size="9.3" fill="#141414" stroke="#141414" stroke-width="0.4">27</text>
<line x1="696.90" y1="436.65" x2="698.30" y2="436.65" stroke="#2a2a2a" stroke-width="1.15"/>
<line x1="696.90" y1="444.06" x2="699.70" y2="444.06" stroke="#2a2a2a" stroke-width="1.15"/>
<text x="702.20" y="447.09" font-size="9.3" fill="#141414" stroke="#141414" stroke-width="0.4">20</text>
<line x1="696.90" y1="451.47" x2="698.30" y2="451.47" stroke="#2a2a2a" stroke-width="1.15"/>
<line x1="696.90" y1="458.88" x2="699.70" y2="458.88" stroke="#2a2a2a" stroke-width="1.15"/>
<text x="702.20" y="461.91" font-size="9.3" fill="#141414" stroke="#141414" stroke-width="0.4">13</text>
<line x1="696.90" y1="466.29" x2="698.30" y2="466.29" stroke="#2a2a2a" stroke-width="1.15"/>
<line x1="696.90" y1="473.70" x2="699.70" y2="473.70" stroke="#2a2a2a" stroke-width="1.15"/>
<text x="702.20" y="476.73" font-size="9.3" fill="#141414" stroke="#141414" stroke-width="0.4">6</text>
<text x="718.20" y="411.18" font-size="10.0" font-style="italic" fill="#141414" stroke="#141414" stroke-width="0.42">P2[HP]</text>
<rect x="579.6" y="429.6" width="14.0" height="10.0" fill="#fff"/>
<rect x="618.6" y="416.2" width="14.2" height="10.0" fill="#fff"/>
<path d="M377.20,445.17 L381.52,444.31 L385.84,443.45 L390.16,442.60 L394.47,441.76 L398.79,440.92 L403.11,440.09 L407.43,439.26 L411.75,438.44 L416.07,437.63 L420.39,436.83 L424.71,436.03 L429.02,435.24 L433.34,434.45 L437.66,433.68 L441.98,432.90 L446.30,432.14 L450.62,431.38 L454.94,430.63 L459.25,429.89 L463.57,429.15 L467.89,428.42 L472.21,427.70 L476.53,426.98 L480.85,426.27 L485.17,425.57 L489.48,424.87 L493.80,424.19 L498.12,423.50 L502.44,422.83 L506.76,422.16 L511.08,421.50 L515.40,420.85 L519.72,420.20 L524.03,419.56 L528.35,418.93 L532.67,418.31 L536.99,417.69 L541.31,417.08 L545.63,416.47 L549.95,415.88 L554.26,415.29 L558.58,414.71 L562.90,414.13 L567.22,413.57 L571.54,413.01 L575.86,412.46 L580.18,411.91 L584.49,411.37 L588.81,410.84 L593.13,410.32 L597.45,409.80 L601.77,409.30 L606.09,408.80 L610.41,408.30 L614.73,407.82 L619.04,407.34 L623.36,406.87 L627.68,406.41 L632.00,405.95" fill="none" stroke="#000" stroke-width="1.75" stroke-linecap="butt" stroke-linejoin="round"/>
<path d="M377.20,454.59 L381.27,454.00 L385.34,453.39 L389.41,452.77 L393.48,452.14 L397.55,451.50 L401.62,450.86 L405.69,450.21 L409.76,449.57 L413.83,448.94 L417.89,448.31 L421.96,447.68 L426.03,447.06 L430.10,446.45 L434.17,445.85 L438.24,445.25 L442.31,444.67 L446.38,444.08 L450.45,443.51 L454.52,442.94 L458.59,442.37 L462.66,441.81 L466.73,441.25 L470.80,440.69 L474.87,440.13 L478.94,439.57 L483.01,439.01 L487.08,438.44 L491.15,437.87 L495.22,437.29 L499.28,436.70 L503.35,436.10 L507.42,435.50 L511.49,434.89 L515.56,434.26 L519.63,433.63 L523.70,432.99 L527.77,432.33 L531.84,431.67 L535.91,431.00 L539.98,430.33 L544.05,429.65 L548.12,428.96 L552.19,428.28 L556.26,427.60 L560.33,426.92 L564.40,426.25 L568.47,425.60 L572.54,424.96 L576.61,424.35 L580.67,423.77 L584.74,423.23 L588.81,422.73 L592.88,422.28 L596.95,421.89 L601.02,421.57 L605.09,421.33 L609.16,421.17 L613.23,421.12 L617.30,421.18" fill="none" stroke="#000" stroke-width="1.75" stroke-linecap="butt" stroke-linejoin="round"/>
<path d="M377.20,459.88 L380.59,459.40 L383.98,458.92 L387.37,458.43 L390.77,457.93 L394.16,457.42 L397.55,456.90 L400.94,456.38 L404.33,455.86 L407.72,455.34 L411.12,454.82 L414.51,454.30 L417.90,453.79 L421.29,453.28 L424.68,452.77 L428.07,452.27 L431.46,451.78 L434.86,451.29 L438.25,450.82 L441.64,450.35 L445.03,449.89 L448.42,449.44 L451.81,449.01 L455.21,448.58 L458.60,448.16 L461.99,447.76 L465.38,447.36 L468.77,446.98 L472.16,446.60 L475.55,446.24 L478.95,445.88 L482.34,445.54 L485.73,445.20 L489.12,444.87 L492.51,444.55 L495.90,444.24 L499.29,443.93 L502.69,443.62 L506.08,443.32 L509.47,443.02 L512.86,442.72 L516.25,442.42 L519.64,442.12 L523.04,441.82 L526.43,441.51 L529.82,441.19 L533.21,440.87 L536.60,440.54 L539.99,440.19 L543.38,439.83 L546.78,439.45 L550.17,439.06 L553.56,438.64 L556.95,438.20 L560.34,437.74 L563.73,437.24 L567.13,436.72 L570.52,436.16 L573.91,435.56 L577.30,434.93" fill="none" stroke="#000" stroke-width="1.75" stroke-linecap="butt" stroke-linejoin="round"/>
<text x="634.20" y="408.51" font-size="8.7" font-weight="bold" fill="#141414" stroke="#141414" stroke-width="0.4">NA</text>
<text x="619.60" y="424.21" font-size="8.7" font-weight="bold" fill="#141414" stroke="#141414" stroke-width="0.4">NB</text>
<text x="580.30" y="437.71" font-size="8.7" font-weight="bold" fill="#141414" stroke="#141414" stroke-width="0.4">NC</text>
<line x1="297.20" y1="499.00" x2="297.20" y2="621.30" stroke="#2a2a2a" stroke-width="1.15"/>
<line x1="337.17" y1="499.00" x2="337.17" y2="621.30" stroke="#2a2a2a" stroke-width="1.15"/>
<line x1="377.14" y1="499.00" x2="377.14" y2="621.30" stroke="#2a2a2a" stroke-width="1.15"/>
<line x1="417.11" y1="499.00" x2="417.11" y2="621.30" stroke="#2a2a2a" stroke-width="1.15"/>
<line x1="457.08" y1="499.00" x2="457.08" y2="621.30" stroke="#2a2a2a" stroke-width="1.15"/>
<line x1="497.05" y1="499.00" x2="497.05" y2="621.30" stroke="#2a2a2a" stroke-width="1.15"/>
<line x1="537.02" y1="499.00" x2="537.02" y2="621.30" stroke="#2a2a2a" stroke-width="1.15"/>
<line x1="576.99" y1="499.00" x2="576.99" y2="621.30" stroke="#2a2a2a" stroke-width="1.15"/>
<line x1="616.96" y1="499.00" x2="616.96" y2="621.30" stroke="#2a2a2a" stroke-width="1.15"/>
<line x1="656.93" y1="499.00" x2="656.93" y2="621.30" stroke="#2a2a2a" stroke-width="1.15"/>
<line x1="696.90" y1="499.00" x2="696.90" y2="621.30" stroke="#2a2a2a" stroke-width="1.15"/>
<line x1="297.20" y1="499.00" x2="696.90" y2="499.00" stroke="#2a2a2a" stroke-width="1.15"/>
<line x1="294.00" y1="499.00" x2="297.20" y2="499.00" stroke="#2a2a2a" stroke-width="1.15"/>
<text x="291.60" y="501.83" font-size="9.3" text-anchor="end" fill="#141414" stroke="#141414" stroke-width="0.4">8</text>
<line x1="297.20" y1="519.38" x2="696.90" y2="519.38" stroke="#2a2a2a" stroke-width="1.15"/>
<line x1="295.60" y1="519.38" x2="297.20" y2="519.38" stroke="#2a2a2a" stroke-width="1.15"/>
<line x1="297.20" y1="539.77" x2="696.90" y2="539.77" stroke="#2a2a2a" stroke-width="1.15"/>
<line x1="294.00" y1="539.77" x2="297.20" y2="539.77" stroke="#2a2a2a" stroke-width="1.15"/>
<text x="291.60" y="542.60" font-size="9.3" text-anchor="end" fill="#141414" stroke="#141414" stroke-width="0.4">6</text>
<line x1="297.20" y1="560.15" x2="696.90" y2="560.15" stroke="#2a2a2a" stroke-width="1.15"/>
<line x1="295.60" y1="560.15" x2="297.20" y2="560.15" stroke="#2a2a2a" stroke-width="1.15"/>
<line x1="297.20" y1="580.53" x2="696.90" y2="580.53" stroke="#2a2a2a" stroke-width="1.15"/>
<line x1="294.00" y1="580.53" x2="297.20" y2="580.53" stroke="#2a2a2a" stroke-width="1.15"/>
<text x="291.60" y="583.36" font-size="9.3" text-anchor="end" fill="#141414" stroke="#141414" stroke-width="0.4">4</text>
<line x1="297.20" y1="600.92" x2="696.90" y2="600.92" stroke="#2a2a2a" stroke-width="1.15"/>
<line x1="295.60" y1="600.92" x2="297.20" y2="600.92" stroke="#2a2a2a" stroke-width="1.15"/>
<line x1="297.20" y1="621.30" x2="696.90" y2="621.30" stroke="#2a2a2a" stroke-width="1.15"/>
<line x1="294.00" y1="621.30" x2="297.20" y2="621.30" stroke="#2a2a2a" stroke-width="1.15"/>
<text x="291.60" y="624.13" font-size="9.3" text-anchor="end" fill="#141414" stroke="#141414" stroke-width="0.4">2</text>
<text x="236.00" y="510.88" font-size="10.0" font-style="italic" fill="#141414" stroke="#141414" stroke-width="0.42">NPSHr[m]</text>
<line x1="696.90" y1="612.10" x2="699.70" y2="612.10" stroke="#2a2a2a" stroke-width="1.15"/>
<text x="701.90" y="615.03" font-size="9.3" fill="#141414" stroke="#141414" stroke-width="0.4">8</text>
<line x1="696.90" y1="587.07" x2="699.70" y2="587.07" stroke="#2a2a2a" stroke-width="1.15"/>
<text x="701.90" y="590.00" font-size="9.3" fill="#141414" stroke="#141414" stroke-width="0.4">12</text>
<line x1="696.90" y1="562.04" x2="699.70" y2="562.04" stroke="#2a2a2a" stroke-width="1.15"/>
<text x="701.90" y="564.97" font-size="9.3" fill="#141414" stroke="#141414" stroke-width="0.4">16</text>
<line x1="696.90" y1="537.01" x2="699.70" y2="537.01" stroke="#2a2a2a" stroke-width="1.15"/>
<text x="701.90" y="539.94" font-size="9.3" fill="#141414" stroke="#141414" stroke-width="0.4">20</text>
<line x1="696.90" y1="511.98" x2="699.70" y2="511.98" stroke="#2a2a2a" stroke-width="1.15"/>
<text x="701.90" y="514.91" font-size="9.3" fill="#141414" stroke="#141414" stroke-width="0.4">24</text>
<line x1="696.90" y1="599.59" x2="698.30" y2="599.59" stroke="#2a2a2a" stroke-width="1.15"/>
<line x1="696.90" y1="574.56" x2="698.30" y2="574.56" stroke="#2a2a2a" stroke-width="1.15"/>
<line x1="696.90" y1="549.52" x2="698.30" y2="549.52" stroke="#2a2a2a" stroke-width="1.15"/>
<line x1="696.90" y1="524.50" x2="698.30" y2="524.50" stroke="#2a2a2a" stroke-width="1.15"/>
<line x1="696.90" y1="499.47" x2="698.30" y2="499.47" stroke="#2a2a2a" stroke-width="1.15"/>
<text x="711.50" y="509.58" font-size="10.0" font-style="italic" fill="#141414" stroke="#141414" stroke-width="0.42">NPSHr[ft]</text>
<rect x="578.0" y="515.8" width="14.4" height="9.8" fill="#fff"/>
<path d="M377.20,606.50 L380.59,605.56 L383.98,604.61 L387.37,603.66 L390.77,602.70 L394.16,601.74 L397.55,600.77 L400.94,599.79 L404.33,598.81 L407.72,597.82 L411.12,596.83 L414.51,595.83 L417.90,594.83 L421.29,593.83 L424.68,592.83 L428.07,591.81 L431.46,590.79 L434.86,589.76 L438.25,588.72 L441.64,587.66 L445.03,586.59 L448.42,585.51 L451.81,584.41 L455.21,583.28 L458.60,582.10 L461.99,580.87 L465.38,579.57 L468.77,578.22 L472.16,576.82 L475.55,575.36 L478.95,573.84 L482.34,572.25 L485.73,570.61 L489.12,568.94 L492.51,567.25 L495.90,565.55 L499.29,563.84 L502.69,562.11 L506.08,560.36 L509.47,558.58 L512.86,556.79 L516.25,554.99 L519.64,553.18 L523.04,551.37 L526.43,549.56 L529.82,547.76 L533.21,545.98 L536.60,544.21 L539.99,542.45 L543.38,540.70 L546.78,538.95 L550.17,537.21 L553.56,535.47 L556.95,533.73 L560.34,532.00 L563.73,530.27 L567.13,528.55 L570.52,526.83 L573.91,525.11 L577.30,523.40" fill="none" stroke="#000" stroke-width="1.75" stroke-linecap="butt" stroke-linejoin="round"/>
<path d="M377.20,606.61 L381.27,605.48 L385.34,604.33 L389.41,603.18 L393.48,602.02 L397.55,600.85 L401.62,599.68 L405.69,598.49 L409.76,597.30 L413.83,596.10 L417.89,594.90 L421.96,593.68 L426.03,592.46 L430.10,591.23 L434.17,589.99 L438.24,588.74 L442.31,587.49 L446.38,586.22 L450.45,584.94 L454.52,583.66 L458.59,582.36 L462.66,581.05 L466.73,579.73 L470.80,578.39 L474.87,577.04 L478.94,575.68 L483.01,574.30 L487.08,572.91 L491.15,571.50 L495.22,570.07 L499.28,568.62 L503.35,567.15 L507.42,565.66 L511.49,564.15 L515.56,562.62 L519.63,561.06 L523.70,559.47 L527.77,557.86 L531.84,556.22 L535.91,554.55 L539.98,552.84 L544.05,551.11 L548.12,549.34 L552.19,547.53 L556.26,545.69 L560.33,543.81 L564.40,541.88 L568.47,539.92 L572.54,537.90 L576.61,535.85 L580.67,533.74 L584.74,531.58 L588.81,529.37 L592.88,527.11 L596.95,524.79 L601.02,522.41 L605.09,519.97 L609.16,517.47 L613.23,514.90 L617.30,512.27" fill="none" stroke="#000" stroke-width="1.75" stroke-linecap="butt" stroke-linejoin="round"/>
<path d="M377.20,611.19 L381.61,610.11 L386.01,609.00 L390.42,607.87 L394.83,606.70 L399.23,605.51 L403.64,604.31 L408.05,603.08 L412.45,601.83 L416.86,600.58 L421.27,599.31 L425.67,598.03 L430.08,596.74 L434.49,595.45 L438.89,594.16 L443.30,592.86 L447.71,591.56 L452.12,590.26 L456.52,588.96 L460.93,587.66 L465.34,586.36 L469.74,585.07 L474.15,583.77 L478.56,582.49 L482.96,581.20 L487.37,579.92 L491.78,578.64 L496.18,577.37 L500.59,576.10 L505.00,574.83 L509.40,573.56 L513.81,572.29 L518.22,571.01 L522.62,569.74 L527.03,568.46 L531.44,567.18 L535.84,565.89 L540.25,564.60 L544.66,563.29 L549.06,561.97 L553.47,560.63 L557.88,559.28 L562.28,557.91 L566.69,556.51 L571.10,555.09 L575.51,553.64 L579.91,552.16 L584.32,550.65 L588.73,549.10 L593.13,547.50 L597.54,545.86 L601.95,544.17 L606.35,542.43 L610.76,540.63 L615.17,538.76 L619.57,536.83 L623.98,534.83 L628.39,532.76 L632.79,530.60 L637.20,528.36" fill="none" stroke="#000" stroke-width="1.75" stroke-linecap="butt" stroke-linejoin="round"/>
<text x="578.40" y="523.71" font-size="8.7" font-weight="bold" fill="#141414" stroke="#141414" stroke-width="0.4">NC</text>
<text x="618.40" y="514.61" font-size="8.7" font-weight="bold" fill="#141414" stroke="#141414" stroke-width="0.4">NB</text>
<text x="640.00" y="531.71" font-size="8.7" font-weight="bold" fill="#141414" stroke="#141414" stroke-width="0.4">NA</text>
<line x1="297.20" y1="652.60" x2="696.90" y2="652.60" stroke="#3a3a3a" stroke-width="1.0"/>
<line x1="297.20" y1="649.40" x2="297.20" y2="652.60" stroke="#2a2a2a" stroke-width="1.15"/>
<text x="297.20" y="645.13" font-size="9.3" text-anchor="middle" fill="#141414" stroke="#141414" stroke-width="0.4">0</text>
<line x1="317.19" y1="651.00" x2="317.19" y2="652.60" stroke="#2a2a2a" stroke-width="1.15"/>
<line x1="337.17" y1="649.40" x2="337.17" y2="652.60" stroke="#2a2a2a" stroke-width="1.15"/>
<text x="337.17" y="645.13" font-size="9.3" text-anchor="middle" fill="#141414" stroke="#141414" stroke-width="0.4">20</text>
<line x1="357.15" y1="651.00" x2="357.15" y2="652.60" stroke="#2a2a2a" stroke-width="1.15"/>
<line x1="377.14" y1="649.40" x2="377.14" y2="652.60" stroke="#2a2a2a" stroke-width="1.15"/>
<text x="377.14" y="645.13" font-size="9.3" text-anchor="middle" fill="#141414" stroke="#141414" stroke-width="0.4">40</text>
<line x1="397.12" y1="651.00" x2="397.12" y2="652.60" stroke="#2a2a2a" stroke-width="1.15"/>
<line x1="417.11" y1="649.40" x2="417.11" y2="652.60" stroke="#2a2a2a" stroke-width="1.15"/>
<text x="417.11" y="645.13" font-size="9.3" text-anchor="middle" fill="#141414" stroke="#141414" stroke-width="0.4">60</text>
<line x1="437.09" y1="651.00" x2="437.09" y2="652.60" stroke="#2a2a2a" stroke-width="1.15"/>
<line x1="457.08" y1="649.40" x2="457.08" y2="652.60" stroke="#2a2a2a" stroke-width="1.15"/>
<text x="457.08" y="645.13" font-size="9.3" text-anchor="middle" fill="#141414" stroke="#141414" stroke-width="0.4">80</text>
<line x1="477.06" y1="651.00" x2="477.06" y2="652.60" stroke="#2a2a2a" stroke-width="1.15"/>
<line x1="497.05" y1="649.40" x2="497.05" y2="652.60" stroke="#2a2a2a" stroke-width="1.15"/>
<text x="497.05" y="645.13" font-size="9.3" text-anchor="middle" fill="#141414" stroke="#141414" stroke-width="0.4">100</text>
<line x1="517.03" y1="651.00" x2="517.03" y2="652.60" stroke="#2a2a2a" stroke-width="1.15"/>
<line x1="537.02" y1="649.40" x2="537.02" y2="652.60" stroke="#2a2a2a" stroke-width="1.15"/>
<text x="537.02" y="645.13" font-size="9.3" text-anchor="middle" fill="#141414" stroke="#141414" stroke-width="0.4">120</text>
<line x1="557.00" y1="651.00" x2="557.00" y2="652.60" stroke="#2a2a2a" stroke-width="1.15"/>
<line x1="576.99" y1="649.40" x2="576.99" y2="652.60" stroke="#2a2a2a" stroke-width="1.15"/>
<text x="576.99" y="645.13" font-size="9.3" text-anchor="middle" fill="#141414" stroke="#141414" stroke-width="0.4">140</text>
<line x1="596.97" y1="651.00" x2="596.97" y2="652.60" stroke="#2a2a2a" stroke-width="1.15"/>
<line x1="616.96" y1="649.40" x2="616.96" y2="652.60" stroke="#2a2a2a" stroke-width="1.15"/>
<text x="616.96" y="645.13" font-size="9.3" text-anchor="middle" fill="#141414" stroke="#141414" stroke-width="0.4">160</text>
<line x1="636.94" y1="651.00" x2="636.94" y2="652.60" stroke="#2a2a2a" stroke-width="1.15"/>
<line x1="656.93" y1="649.40" x2="656.93" y2="652.60" stroke="#2a2a2a" stroke-width="1.15"/>
<text x="656.93" y="645.13" font-size="9.3" text-anchor="middle" fill="#141414" stroke="#141414" stroke-width="0.4">180</text>
<line x1="676.91" y1="651.00" x2="676.91" y2="652.60" stroke="#2a2a2a" stroke-width="1.15"/>
<line x1="696.90" y1="649.40" x2="696.90" y2="652.60" stroke="#2a2a2a" stroke-width="1.15"/>
<text x="696.90" y="645.13" font-size="9.3" text-anchor="middle" fill="#141414" stroke="#141414" stroke-width="0.4">200</text>
<line x1="297.20" y1="652.60" x2="297.20" y2="655.80" stroke="#2a2a2a" stroke-width="1.15"/>
<text x="291.40" y="666.33" font-size="9.3" text-anchor="middle" fill="#141414" stroke="#141414" stroke-width="0.4">0</text>
<line x1="315.19" y1="652.60" x2="315.19" y2="654.20" stroke="#2a2a2a" stroke-width="1.15"/>
<line x1="333.17" y1="652.60" x2="333.17" y2="655.80" stroke="#2a2a2a" stroke-width="1.15"/>
<text x="327.37" y="666.33" font-size="9.3" text-anchor="middle" fill="#141414" stroke="#141414" stroke-width="0.4">300</text>
<line x1="351.16" y1="652.60" x2="351.16" y2="654.20" stroke="#2a2a2a" stroke-width="1.15"/>
<line x1="369.15" y1="652.60" x2="369.15" y2="655.80" stroke="#2a2a2a" stroke-width="1.15"/>
<text x="363.35" y="666.33" font-size="9.3" text-anchor="middle" fill="#141414" stroke="#141414" stroke-width="0.4">600</text>
<line x1="387.13" y1="652.60" x2="387.13" y2="654.20" stroke="#2a2a2a" stroke-width="1.15"/>
<line x1="405.12" y1="652.60" x2="405.12" y2="655.80" stroke="#2a2a2a" stroke-width="1.15"/>
<text x="399.32" y="666.33" font-size="9.3" text-anchor="middle" fill="#141414" stroke="#141414" stroke-width="0.4">900</text>
<line x1="423.11" y1="652.60" x2="423.11" y2="654.20" stroke="#2a2a2a" stroke-width="1.15"/>
<line x1="441.09" y1="652.60" x2="441.09" y2="655.80" stroke="#2a2a2a" stroke-width="1.15"/>
<text x="435.29" y="666.33" font-size="9.3" text-anchor="middle" fill="#141414" stroke="#141414" stroke-width="0.4">1200</text>
<line x1="459.08" y1="652.60" x2="459.08" y2="654.20" stroke="#2a2a2a" stroke-width="1.15"/>
<line x1="477.06" y1="652.60" x2="477.06" y2="655.80" stroke="#2a2a2a" stroke-width="1.15"/>
<text x="471.26" y="666.33" font-size="9.3" text-anchor="middle" fill="#141414" stroke="#141414" stroke-width="0.4">1500</text>
<line x1="495.05" y1="652.60" x2="495.05" y2="654.20" stroke="#2a2a2a" stroke-width="1.15"/>
<line x1="513.04" y1="652.60" x2="513.04" y2="655.80" stroke="#2a2a2a" stroke-width="1.15"/>
<text x="507.24" y="666.33" font-size="9.3" text-anchor="middle" fill="#141414" stroke="#141414" stroke-width="0.4">1800</text>
<line x1="531.02" y1="652.60" x2="531.02" y2="654.20" stroke="#2a2a2a" stroke-width="1.15"/>
<line x1="549.01" y1="652.60" x2="549.01" y2="655.80" stroke="#2a2a2a" stroke-width="1.15"/>
<text x="543.21" y="666.33" font-size="9.3" text-anchor="middle" fill="#141414" stroke="#141414" stroke-width="0.4">2100</text>
<line x1="567.00" y1="652.60" x2="567.00" y2="654.20" stroke="#2a2a2a" stroke-width="1.15"/>
<line x1="584.98" y1="652.60" x2="584.98" y2="655.80" stroke="#2a2a2a" stroke-width="1.15"/>
<text x="579.18" y="666.33" font-size="9.3" text-anchor="middle" fill="#141414" stroke="#141414" stroke-width="0.4">2400</text>
<line x1="602.97" y1="652.60" x2="602.97" y2="654.20" stroke="#2a2a2a" stroke-width="1.15"/>
<line x1="620.96" y1="652.60" x2="620.96" y2="655.80" stroke="#2a2a2a" stroke-width="1.15"/>
<text x="615.16" y="666.33" font-size="9.3" text-anchor="middle" fill="#141414" stroke="#141414" stroke-width="0.4">2700</text>
<line x1="638.94" y1="652.60" x2="638.94" y2="654.20" stroke="#2a2a2a" stroke-width="1.15"/>
<line x1="656.93" y1="652.60" x2="656.93" y2="655.80" stroke="#2a2a2a" stroke-width="1.15"/>
<text x="651.13" y="666.33" font-size="9.3" text-anchor="middle" fill="#141414" stroke="#141414" stroke-width="0.4">3000</text>
<line x1="674.92" y1="652.60" x2="674.92" y2="654.20" stroke="#2a2a2a" stroke-width="1.15"/>
<line x1="692.90" y1="652.60" x2="692.90" y2="655.80" stroke="#2a2a2a" stroke-width="1.15"/>
<text x="687.10" y="666.33" font-size="9.3" text-anchor="middle" fill="#141414" stroke="#141414" stroke-width="0.4">3300</text>
<text x="705.50" y="646.98" font-size="10.0" font-style="italic" fill="#141414" stroke="#141414" stroke-width="0.42">Q[m³/h]</text>
<text x="705.50" y="664.78" font-size="10.0" font-style="italic" fill="#141414" stroke="#141414" stroke-width="0.42">Q[l/min]</text>
</svg>
</body>
</html>
